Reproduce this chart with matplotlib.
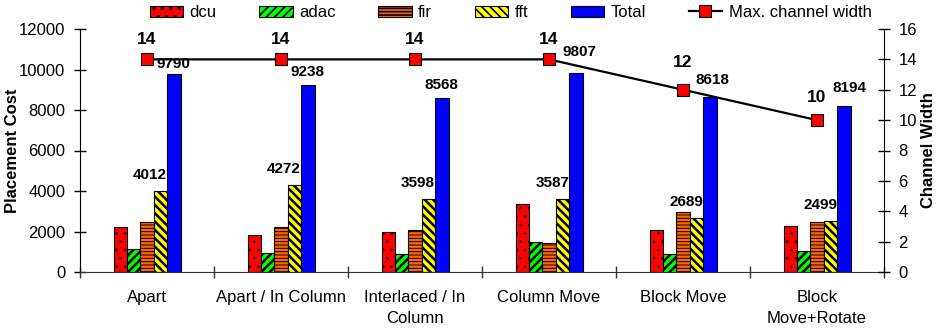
import numpy as np
import matplotlib.pyplot as plt

plt.rcParams['font.family'] = ['Liberation Sans', 'DejaVu Sans']
plt.rcParams['font.size'] = 12
plt.rcParams['hatch.linewidth'] = 1.2

# Placement cost per benchmark for each placement strategy
strategies = ['Apart', 'Apart / In Column', 'Interlaced / In\nColumn',
              'Column Move', 'Block Move', 'Block\nMove+Rotate']
dcu = [2230, 1850, 2000, 3350, 2050, 2270]
adac = [1150, 950, 870, 1500, 870, 1050]
fir = [2450, 2200, 2080, 1430, 2950, 2450]
fft = [4012, 4272, 3598, 3587, 2689, 2499]
total = [9790, 9238, 8568, 9807, 8618, 8194]
channel_width = [14, 14, 14, 14, 12, 10]

series = [dcu, adac, fir, fft, total]
names = ['dcu', 'adac', 'fir', 'fft', 'Total']
colors = ['#FF0000', '#00FF00', '#FF6600', '#FFFF00', '#0000FF']
hatches = ['..', '////', '-----', '\\\\\\\\', '']
hatch_lw = [0.6, 1.8, 0.7, 1.8, 1.0]

# label offsets in pixels (dx, dy above the top)
total_lbl_off = [(0, 3), (0, 6), (0, 6), (4, 14), (3, 10), (6, 11)]
width_lbl_off = [12, 12, 12, 12, 20, 15]

fig = plt.figure(figsize=(9.42, 3.34), dpi=100)
ax = fig.add_axes([80 / 942, 1 - 272 / 334, 804 / 942, 243 / 334])
ax2 = ax.twinx()

x = np.arange(len(strategies))
w = 0.1
bars = []
for k, (vals, name) in enumerate(zip(series, names)):
    b = ax.bar(x + (k - 2) * w, vals, w, color=colors[k], edgecolor='black',
               linewidth=0.8, hatch=hatches[k] or None, label=name)
    for p in b.patches:
        if hasattr(p, 'set_hatch_linewidth'):
            p.set_hatch_linewidth(hatch_lw[k])
    bars.append(b)

px = 72 / 100
# fft labels sit up-left of the fft bar
for i, v in enumerate(fft):
    ax.annotate(str(v), (x[i] + 1.5 * w, v), xytext=(0, 9 * px),
                textcoords='offset points', ha='right', va='bottom',
                fontsize=11, fontweight='bold')
for i, v in enumerate(total):
    dx, dy = total_lbl_off[i]
    ax.annotate(str(v), (x[i] + 2 * w, v), xytext=(dx * px, dy * px),
                textcoords='offset points', ha='center', va='bottom',
                fontsize=11, fontweight='bold')

ax.set_xlim(-0.5, len(strategies) - 0.5)
ax.set_ylim(0, 12000)
ax.set_yticks(np.arange(0, 12001, 2000))
ax.set_xticks(np.arange(-0.5, len(strategies), 1.0))
ax.set_xticklabels([])
ax.set_xticks(x, minor=True)
ax.set_xticklabels(strategies, minor=True, linespacing=1.5)
ax.tick_params(axis='x', which='major', direction='inout', length=9, width=1, color='#333333')
ax.tick_params(axis='x', which='minor', length=0, pad=13)
ax.tick_params(axis='y', direction='inout', length=9, width=1, pad=6)
ax.set_ylabel('Placement Cost', fontweight='bold', fontsize=12, labelpad=-1)
for s in ['top', 'right']:
    ax.spines[s].set_visible(False)
ax.spines['bottom'].set_color('#333333')

line, = ax2.plot(x, channel_width, color='black', linewidth=1.6, marker='s',
                 markersize=8.5, markerfacecolor='#FF0000', markeredgecolor='black',
                 markeredgewidth=0.8, label='Max. channel width')
for i, v in enumerate(channel_width):
    ax2.annotate(str(v), (x[i], v), xytext=(0, width_lbl_off[i] * px),
                 textcoords='offset points', ha='center', va='bottom',
                 fontsize=12.5, fontweight='bold')
ax2.set_ylim(0, 16)
ax2.set_yticks(np.arange(0, 17, 2))
ax2.tick_params(axis='y', direction='inout', length=9, width=1, pad=6)
ax2.set_ylabel('Channel Width', fontweight='bold', fontsize=12, labelpad=3)
for s in ['top', 'left', 'bottom']:
    ax2.spines[s].set_visible(False)

handles = bars + [line]
fig.legend(handles, names + ['Max. channel width'], loc='center',
           bbox_to_anchor=(0.542, 0.962), ncol=6, frameon=False, fontsize=12,
           handlelength=2.0, handleheight=0.65, handletextpad=0.4,
           columnspacing=2.55, borderaxespad=0)

fig.savefig('out.png', dpi=100)
